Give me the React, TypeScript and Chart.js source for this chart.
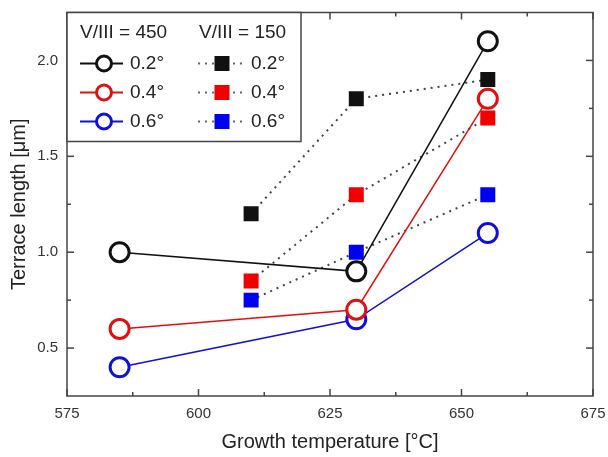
import { useEffect, useRef } from 'react';
import { Chart, registerables } from 'chart.js';
Chart.register(...registerables);

const FONT = '"Liberation Sans", Arial, Helvetica, sans-serif';

// Tick values
const xTickValues = [575, 600, 625, 650, 675];
const xMinorTicks = [587.5, 612.5, 637.5, 662.5];
const yTickValues = [0.5, 1.0, 1.5, 2.0];
const yMinorTicks = [0.75, 1.25, 1.75];

// Growth temperatures (°C)
const temps450 = [585, 630, 655];
const temps150 = [610, 630, 655];

// Terrace length (µm), V/III = 450
const v450_02 = [1.0, 0.9, 2.1];
const v450_04 = [0.6, 0.7, 1.8];
const v450_06 = [0.4, 0.65, 1.1];

// Terrace length (µm), V/III = 150
const v150_02 = [1.2, 1.8, 1.9];
const v150_04 = [0.85, 1.3, 1.7];
const v150_06 = [0.75, 1.0, 1.3];

const legendLabels = ['0.2°', '0.4°', '0.6°'];
const legendHeaders = ['V/III = 450', 'V/III = 150'];

const BLACK = '#111111';
const RED = '#e01010';
const BLUE = '#1010d8';
const RED_SQ = '#f00000';
const BLUE_SQ = '#0000f0';

const toPts = (xs: number[], ys: number[]) => xs.map((x, i) => ({ x, y: ys[i] }));

function circleSet(label: string, xs: number[], ys: number[], color: string) {
  return {
    label,
    data: toPts(xs, ys),
    borderColor: color,
    borderWidth: 1.5,
    pointStyle: 'circle',
    pointRadius: 9.5,
    pointBorderWidth: 3,
    pointBorderColor: color,
    pointBackgroundColor: '#ffffff',
    tension: 0,
  };
}

function squareSet(label: string, xs: number[], ys: number[], color: string) {
  return {
    label,
    data: toPts(xs, ys),
    borderColor: '#444444',
    borderWidth: 2,
    borderDash: [2, 5],
    pointStyle: 'rect',
    pointRadius: 10.6,
    pointBorderWidth: 0,
    pointBorderColor: color,
    pointBackgroundColor: color,
    tension: 0,
  };
}

const zeroPad = (s: any) => {
  s.paddingTop = 0;
  s.paddingBottom = 0;
  s.paddingLeft = 0;
  s.paddingRight = 0;
};

const framePlugin = {
  id: 'frame',
  afterDraw(chart: any) {
    const { ctx, chartArea: a, scales } = chart;
    const xs = scales.x;
    const ys = scales.y;
    ctx.save();
    ctx.strokeStyle = '#444444';
    ctx.lineWidth = 1.5;
    ctx.strokeRect(a.left, a.top, a.right - a.left, a.bottom - a.top);
    const tick = (x1: number, y1: number, x2: number, y2: number) => {
      ctx.beginPath();
      ctx.moveTo(x1, y1);
      ctx.lineTo(x2, y2);
      ctx.stroke();
    };
    const MAJ = 7, MIN = 4;
    xTickValues.forEach((v) => {
      const px = xs.getPixelForValue(v);
      tick(px, a.bottom, px, a.bottom - MAJ);
      tick(px, a.top, px, a.top + MAJ);
    });
    xMinorTicks.forEach((v) => {
      const px = xs.getPixelForValue(v);
      tick(px, a.bottom, px, a.bottom - MIN);
      tick(px, a.top, px, a.top + MIN);
    });
    yTickValues.forEach((v) => {
      const py = ys.getPixelForValue(v);
      tick(a.left, py, a.left + MAJ, py);
      tick(a.right, py, a.right - MAJ, py);
    });
    yMinorTicks.forEach((v) => {
      const py = ys.getPixelForValue(v);
      tick(a.left, py, a.left + MIN, py);
      tick(a.right, py, a.right - MIN, py);
    });
    ctx.restore();
  },
};

const titlePlugin = {
  id: 'titles',
  afterDraw(chart: any) {
    const { ctx, chartArea: a } = chart;
    ctx.save();
    ctx.fillStyle = '#222222';
    ctx.font = `20px ${FONT}`;
    ctx.textAlign = 'center';
    ctx.textBaseline = 'middle';
    ctx.fillText('Growth temperature [°C]', (a.left + a.right) / 2, 442);
    ctx.translate(19, (a.top + a.bottom) / 2);
    ctx.rotate(-Math.PI / 2);
    ctx.fillText('Terrace length [μm]', 0, 0);
    ctx.restore();
  },
};

const legendPlugin = {
  id: 'customLegend',
  afterDraw(chart: any) {
    const { ctx, chartArea: a } = chart;
    const left = a.left, top = a.top, w = 234, h = 129;
    ctx.save();
    ctx.fillStyle = '#ffffff';
    ctx.fillRect(left, top, w, h);
    ctx.strokeStyle = '#444444';
    ctx.lineWidth = 1.5;
    ctx.strokeRect(left, top, w, h);

    ctx.fillStyle = '#222222';
    ctx.font = `19px ${FONT}`;
    ctx.textBaseline = 'middle';
    ctx.textAlign = 'left';
    ctx.fillText(legendHeaders[0], left + 13, top + 20);
    ctx.fillText(legendHeaders[1], left + 132, top + 20);

    const circleColors = [BLACK, RED, BLUE];
    const squareColors = [BLACK, RED_SQ, BLUE_SQ];
    const rows = [top + 51, top + 80, top + 109];
    rows.forEach((y, i) => {
      // left column: solid line + open circle
      ctx.setLineDash([]);
      ctx.strokeStyle = circleColors[i];
      ctx.lineWidth = 2;
      ctx.beginPath();
      ctx.moveTo(left + 13, y);
      ctx.lineTo(left + 56, y);
      ctx.stroke();
      ctx.beginPath();
      ctx.arc(left + 37, y, 7.5, 0, Math.PI * 2);
      ctx.fillStyle = '#ffffff';
      ctx.fill();
      ctx.lineWidth = 3;
      ctx.stroke();
      ctx.fillStyle = '#222222';
      ctx.fillText(legendLabels[i], left + 63, y);

      // right column: dotted line + filled square
      ctx.strokeStyle = '#666666';
      ctx.lineWidth = 2;
      ctx.setLineDash([2, 5]);
      ctx.beginPath();
      ctx.moveTo(left + 131, y);
      ctx.lineTo(left + 180, y);
      ctx.stroke();
      ctx.setLineDash([]);
      ctx.fillStyle = squareColors[i];
      ctx.fillRect(left + 155 - 7.5, y - 7.5, 15, 15);
      ctx.fillStyle = '#222222';
      ctx.fillText(legendLabels[i], left + 184, y);
    });
    ctx.restore();
  },
};

export default function App() {
  const ref = useRef<HTMLCanvasElement>(null);
  useEffect(() => {
    const chart = new Chart(ref.current as HTMLCanvasElement, {
      type: 'line',
      data: {
        datasets: [
          circleSet('V/III=450 0.2°', temps450, v450_02, BLACK),
          circleSet('V/III=450 0.4°', temps450, v450_04, RED),
          circleSet('V/III=450 0.6°', temps450, v450_06, BLUE),
          squareSet('V/III=150 0.2°', temps150, v150_02, BLACK),
          squareSet('V/III=150 0.4°', temps150, v150_04, RED_SQ),
          squareSet('V/III=150 0.6°', temps150, v150_06, BLUE_SQ),
        ] as any,
      },
      options: {
        responsive: false,
        animation: false,
        layout: { padding: { left: 0, right: 15, top: 11, bottom: 0 } },
        plugins: { legend: { display: false }, tooltip: { enabled: false } },
        scales: {
          x: {
            type: 'linear',
            min: 575,
            max: 675,
            grid: { display: false, drawTicks: false },
            border: { display: false },
            afterBuildTicks: (s: any) => {
              s.ticks = xTickValues.map((v) => ({ value: v }));
            },
            afterFit: (s: any) => {
              s.height = 61;
              zeroPad(s);
            },
            ticks: {
              padding: 9,
              autoSkip: false,
              maxRotation: 0,
              color: '#333333',
              font: { family: FONT, size: 15 },
              callback: (v: any) => String(v),
            },
          },
          y: {
            type: 'linear',
            min: 0.25,
            max: 2.25,
            grid: { display: false, drawTicks: false },
            border: { display: false },
            afterBuildTicks: (s: any) => {
              s.ticks = yTickValues.map((v) => ({ value: v }));
            },
            afterFit: (s: any) => {
              s.width = 67;
              zeroPad(s);
            },
            ticks: {
              padding: 9,
              autoSkip: false,
              color: '#333333',
              font: { family: FONT, size: 15 },
              callback: (v: any) => Number(v).toFixed(1),
            },
          },
        },
      } as any,
      plugins: [framePlugin, legendPlugin, titlePlugin],
    });
    return () => chart.destroy();
  }, []);
  return (
    <div style={{ position: 'fixed', left: 0, top: 0, width: 608, height: 457, background: '#ffffff' }}>
      <canvas ref={ref} width={608} height={457} style={{ display: 'block' }} />
    </div>
  );
}
